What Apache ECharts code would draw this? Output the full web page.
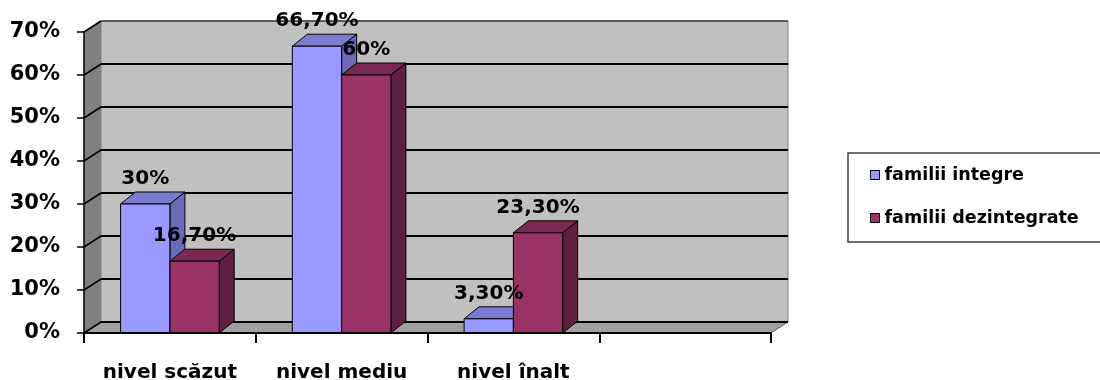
<!DOCTYPE html>
<html><head><meta charset="utf-8">
<script src="https://cdn.jsdelivr.net/npm/echarts@6/dist/echarts.min.js"></script>
<style>html,body{margin:0;padding:0;background:#fff}#chart{width:1100px;height:380px}</style>
</head><body><div id="chart"></div>
<script>
const categories = ['nivel scăzut', 'nivel mediu', 'nivel înalt', ''];
const seriesNames = ['familii integre', 'familii dezintegrate'];
const familiiIntegre = [30, 66.7, 3.3];
const familiiDezintegrate = [16.7, 60, 23.3];
const yTicks = [0, 10, 20, 30, 40, 50, 60, 70];

const FONT = 'DejaVu Sans';
const DX = 17, DY = -11;
const BDX = 15, BDY = -12;
const BAR_FRAC = 0.287;
const faces = [
  {front: '#9999ff', top: '#7b7bd0', side: '#6a6ab8'},
  {front: '#993366', top: '#7a2952', side: '#5e1f40'}
];

function fmt(v) { return (Number.isInteger(v) ? String(v) : v.toFixed(2).replace('.', ',')) + '%'; }

function wallItem(params, api) {
  const band = api.size([1, 0])[0];
  const p0 = api.coord([0, 0]);
  const left = p0[0] - band / 2;
  const right = api.coord([categories.length - 1, 0])[0] + band / 2;
  const bottom = p0[1];
  const top = api.coord([0, yTicks[yTicks.length - 1]])[1];
  const ch = [];
  ch.push({type: 'rect', shape: {x: left + DX, y: top + DY, width: right - left, height: bottom - top}, style: {fill: '#c0c0c0', stroke: '#808080', lineWidth: 1}});
  ch.push({type: 'polygon', shape: {points: [[left, bottom], [left, top], [left + DX, top + DY], [left + DX, bottom + DY]]}, style: {fill: '#808080'}});
  ch.push({type: 'polygon', shape: {points: [[left, bottom], [right, bottom], [right + DX, bottom + DY], [left + DX, bottom + DY]]}, style: {fill: '#a0a0a0', stroke: '#606060', lineWidth: 1}});
  yTicks.forEach(t => {
    const y = api.coord([0, t])[1];
    if (t !== yTicks[yTicks.length - 1]) {
      ch.push({type: 'line', shape: {x1: left + DX, y1: y + DY, x2: right + DX, y2: y + DY}, style: {stroke: '#000', lineWidth: 2}});
    }
    ch.push({type: 'line', shape: {x1: left, y1: y, x2: left + DX, y2: y + DY}, style: {stroke: '#000', lineWidth: 1.5}});
  });
  ch.push({type: 'line', shape: {x1: left + DX, y1: top + DY, x2: right + DX, y2: top + DY}, style: {stroke: '#404040', lineWidth: 1.5}});
  return {type: 'group', children: ch};
}

function barGeom(api, s) {
  const c = api.value(0), v = api.value(1);
  const band = api.size([1, 0])[0];
  const base = api.coord([c, 0]);
  const topY = api.coord([c, v])[1];
  const w = band * BAR_FRAC;
  const x0 = base[0] - w + s * w;
  return {x0, w, topY, bottom: base[1], v};
}

function barRenderer(s) {
  return function (params, api) {
    const g = barGeom(api, s), f = faces[s];
    const xr = g.x0 + g.w;
    return {type: 'group', children: [
      {type: 'polygon', shape: {points: [[xr, g.bottom], [xr, g.topY], [xr + BDX, g.topY + BDY], [xr + BDX, g.bottom + BDY]]}, style: {fill: f.side, stroke: '#000', lineWidth: 1}},
      {type: 'polygon', shape: {points: [[g.x0, g.topY], [xr, g.topY], [xr + BDX, g.topY + BDY], [g.x0 + BDX, g.topY + BDY]]}, style: {fill: f.top, stroke: '#000', lineWidth: 1}},
      {type: 'rect', shape: {x: g.x0, y: g.topY, width: g.w, height: g.bottom - g.topY}, style: {fill: f.front, stroke: '#000', lineWidth: 1}}
    ]};
  };
}

function labelRenderer(s) {
  return function (params, api) {
    const g = barGeom(api, s);
    return {type: 'text', style: {x: g.x0 + g.w / 2, y: g.topY - 25, text: fmt(g.v), align: 'center', verticalAlign: 'middle', fill: '#000', font: 'bold 20px "' + FONT + '"'}};
  };
}

const seriesData = [familiiIntegre, familiiDezintegrate];
const series = [
  {type: 'custom', name: 'walls', renderItem: wallItem, data: [[0, 0]], z: 1, silent: true, encode: {x: 0, y: 1}}
];
seriesData.forEach((arr, s) => {
  series.push({type: 'custom', name: seriesNames[s], renderItem: barRenderer(s), data: arr.map((v, i) => [i, v]), z: 2 + s, itemStyle: {color: faces[s].front}, encode: {x: 0, y: 1}});
});
seriesData.forEach((arr, s) => {
  series.push({type: 'custom', name: 'lbl' + s, renderItem: labelRenderer(s), data: arr.map((v, i) => [i, v]), z: 10, silent: true, encode: {x: 0, y: 1}});
});

const chart = echarts.init(document.getElementById('chart'));
chart.setOption({
  animation: false,
  backgroundColor: '#fff',
  grid: {left: 84, top: 32, width: 687, height: 301, containLabel: false, outerBoundsMode: 'none'},
  xAxis: {
    type: 'category', data: categories, boundaryGap: true, z: 5,
    axisLine: {lineStyle: {color: '#000', width: 2}},
    axisTick: {show: true, length: 10, lineStyle: {color: '#000', width: 2}},
    axisLabel: {interval: 0, margin: 30, color: '#000', fontFamily: FONT, fontWeight: 'bold', fontSize: 20},
    splitLine: {show: false}
  },
  yAxis: {
    type: 'value', min: yTicks[0], max: yTicks[yTicks.length - 1], interval: 10, z: 5,
    axisLine: {show: true, lineStyle: {color: '#000', width: 1.5}},
    axisTick: {show: true, length: 7, lineStyle: {color: '#000', width: 1.5}},
    axisLabel: {formatter: '{value}%', margin: 24, color: '#000', fontFamily: FONT, fontWeight: 'bold', fontSize: 21},
    splitLine: {show: false}
  },
  legend: {
    data: seriesNames, orient: 'vertical', left: 848, top: 153, selectedMode: false,
    padding: [13, 30, 15, 22], itemGap: 25, itemWidth: 9, itemHeight: 9, icon: 'rect',
    borderColor: '#404040', borderWidth: 1.5,
    itemStyle: {borderColor: '#000', borderWidth: 1},
    textStyle: {fontFamily: FONT, fontWeight: 'bold', fontSize: 17.5, color: '#000'}
  },
  series: series
});
</script>
</body></html>
